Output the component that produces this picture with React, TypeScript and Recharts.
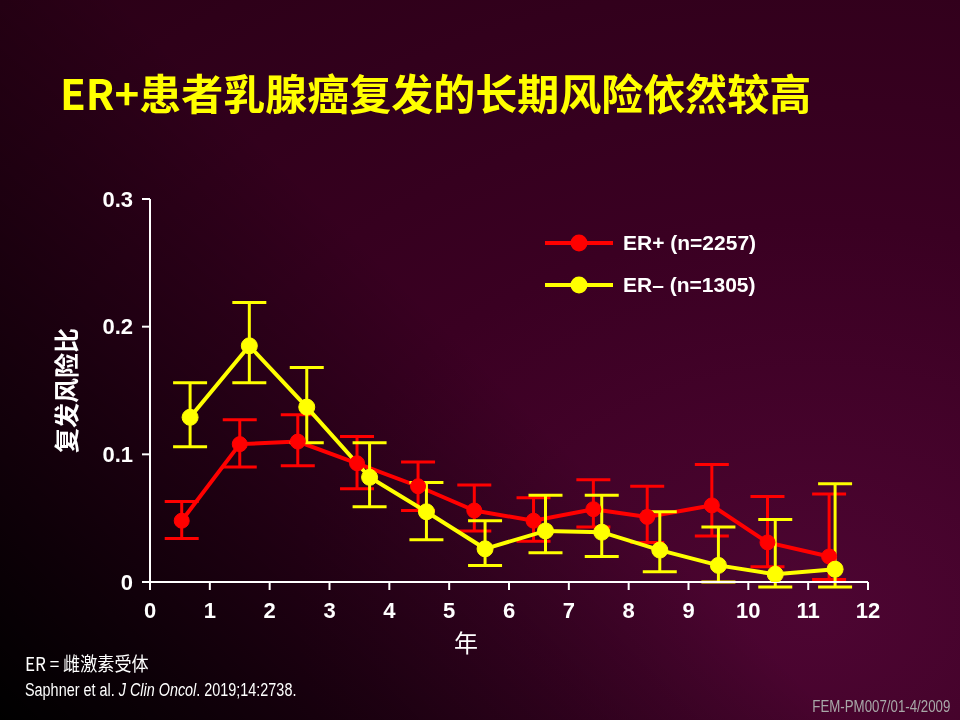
import { LineChart, Line, XAxis, YAxis, ErrorBar, Legend } from 'recharts';

// ER+ series (red)
const RED_X = [0.53, 1.5, 2.47, 3.46, 4.48, 5.42, 6.41, 7.41, 8.31, 9.39, 10.32, 11.35];
const RED_Y = [0.048, 0.108, 0.110, 0.093, 0.075, 0.056, 0.048, 0.057, 0.051, 0.060, 0.031, 0.020];
const RED_LOW = [0.034, 0.090, 0.091, 0.073, 0.056, 0.040, 0.032, 0.043, 0.031, 0.036, 0.012, 0.002];
const RED_HIGH = [0.063, 0.127, 0.131, 0.114, 0.094, 0.076, 0.066, 0.080, 0.075, 0.092, 0.067, 0.069];

// ER- series (yellow)
const YEL_X = [0.67, 1.66, 2.62, 3.67, 4.62, 5.60, 6.61, 7.55, 8.52, 9.50, 10.45, 11.45];
const YEL_Y = [0.129, 0.185, 0.137, 0.082, 0.055, 0.026, 0.040, 0.039, 0.025, 0.013, 0.006, 0.010];
const YEL_LOW = [0.106, 0.156, 0.109, 0.059, 0.033, 0.013, 0.023, 0.020, 0.008, 0.000, -0.004, -0.004];
const YEL_HIGH = [0.156, 0.219, 0.168, 0.109, 0.078, 0.048, 0.068, 0.068, 0.055, 0.043, 0.049, 0.077];

const X_TICKS = [0, 1, 2, 3, 4, 5, 6, 7, 8, 9, 10, 11, 12];
const Y_TICKS = [0, 0.1, 0.2, 0.3];

const RED = '#ff0000';
const YELLOW = '#ffff00';
const LATIN = '"Liberation Sans", Arial, sans-serif';
const CJK = '"Noto Sans CJK SC", "Liberation Sans", sans-serif';

const build = (xs: number[], ys: number[], lo: number[], hi: number[]) =>
  xs.map((x, i) => ({ x, y: ys[i], err: [ys[i] - lo[i], hi[i] - ys[i]] }));

const redData = build(RED_X, RED_Y, RED_LOW, RED_HIGH);
const yelData = build(YEL_X, YEL_Y, YEL_LOW, YEL_HIGH);

const tickStyle = { fill: '#fff', fontSize: 22, fontWeight: 700, fontFamily: LATIN };

function LegendBox({ payload }: any) {
  return (
    <div>
      {(payload || []).map((e: any) => (
        <div key={e.value} style={{ display: 'flex', alignItems: 'center', height: 42 }}>
          <svg width={70} height={20}>
            <line x1={0} y1={10} x2={68} y2={10} stroke={e.color} strokeWidth={4} />
            <circle cx={34} cy={10} r={8.5} fill={e.color} />
          </svg>
          <span style={{ marginLeft: 8, color: '#fff', fontSize: 21, fontWeight: 700, fontFamily: LATIN }}>
            {e.value}
          </span>
        </div>
      ))}
    </div>
  );
}

export default function App() {
  return (
    <div
      style={{
        position: 'fixed', left: 0, top: 0, width: 960, height: 720, overflow: 'hidden',
        background:
          'linear-gradient(45deg, #000000 0%, rgba(0,0,0,0) 50%), radial-gradient(ellipse at 85% 85%, #4d0532 0%, #3a0022 45%, #2a0016 100%)',
      }}
    >
      <div
        style={{
          position: 'absolute', left: 60, top: 71, lineHeight: '42px', fontSize: 42, fontWeight: 700,
          color: YELLOW, fontFamily: CJK, whiteSpace: 'nowrap',
        }}
      >
        ER+患者乳腺癌复发的长期风险依然较高
      </div>

      <div style={{ position: 'absolute', left: 0, top: 0 }}>
        <LineChart width={960} height={720} margin={{ top: 199, right: 92, bottom: 108, left: 90 }}>
          <XAxis
            type="number" dataKey="x" domain={[0, 12]} ticks={X_TICKS} height={30}
            axisLine={{ stroke: '#fff', strokeWidth: 2 }} tickLine={{ stroke: '#fff', strokeWidth: 2 }}
            tickSize={8} tickMargin={12} tick={tickStyle} interval={0}
            label={{
              content: ({ viewBox }: any) => (
                <text x={viewBox.x + viewBox.width * 0.44} y={viewBox.y + 59} textAnchor="middle"
                  dominantBaseline="central" fill="#fff" fontSize={24} fontFamily={CJK}>年</text>
              ),
            }}
          />
          <YAxis
            type="number" domain={[0, 0.3]} ticks={Y_TICKS} width={60} allowDataOverflow
            axisLine={{ stroke: '#fff', strokeWidth: 2 }} tickLine={{ stroke: '#fff', strokeWidth: 2 }}
            tickSize={8} tickMargin={9} tick={tickStyle} interval={0}
            tickFormatter={(v: number) => (v === 0 ? '0' : v.toFixed(1))}
            label={{
              content: ({ viewBox }: any) => {
                const cx = viewBox.x - 25;
                const cy = viewBox.y + viewBox.height / 2;
                return (
                  <text x={cx} y={cy} transform={`rotate(-90 ${cx} ${cy})`} textAnchor="middle"
                    dominantBaseline="central" fill="#fff" fontSize={25} fontWeight={700} fontFamily={CJK}>
                    复发风险比
                  </text>
                );
              },
            }}
          />
          <Legend
            layout="vertical" align="center" verticalAlign="middle"
            wrapperStyle={{ left: 545, top: 222, width: 260 }}
            content={<LegendBox />}
          />
          <Line
            data={redData} dataKey="y" name="ER+ (n=2257)" stroke={RED} strokeWidth={4}
            dot={{ r: 7.5, fill: RED, stroke: RED, strokeWidth: 1 }} activeDot={false}
            isAnimationActive={false}
          >
            <ErrorBar dataKey="err" direction="y" width={17} strokeWidth={3} stroke={RED} isAnimationActive={false} />
          </Line>
          <Line
            data={yelData} dataKey="y" name="ER– (n=1305)" stroke={YELLOW} strokeWidth={4}
            dot={{ r: 8, fill: YELLOW, stroke: YELLOW, strokeWidth: 1 }} activeDot={false}
            isAnimationActive={false}
          >
            <ErrorBar dataKey="err" direction="y" width={17} strokeWidth={3} stroke={YELLOW} isAnimationActive={false} />
          </Line>
        </LineChart>
      </div>

      <div
        style={{
          position: 'absolute', left: 25, top: 652, fontSize: 19, color: '#fff', fontFamily: CJK,
          lineHeight: '22px', whiteSpace: 'nowrap', transform: 'scaleX(0.9)', transformOrigin: 'left center',
        }}
      >
        ER = 雌激素受体
      </div>
      <div
        style={{
          position: 'absolute', left: 25, top: 680, fontSize: 18, color: '#fff', fontFamily: LATIN,
          lineHeight: '20px', whiteSpace: 'nowrap', transform: 'scaleX(0.8)', transformOrigin: 'left center',
        }}
      >
        Saphner et al. <i>J Clin Oncol</i>. 2019;14:2738.
      </div>
      <div
        style={{
          position: 'absolute', right: 10, top: 698, fontSize: 16, color: '#a8a8a8', fontFamily: LATIN,
          lineHeight: '18px', whiteSpace: 'nowrap', transform: 'scaleX(0.83)', transformOrigin: 'right center',
        }}
      >
        FEM-PM007/01-4/2009
      </div>
    </div>
  );
}
